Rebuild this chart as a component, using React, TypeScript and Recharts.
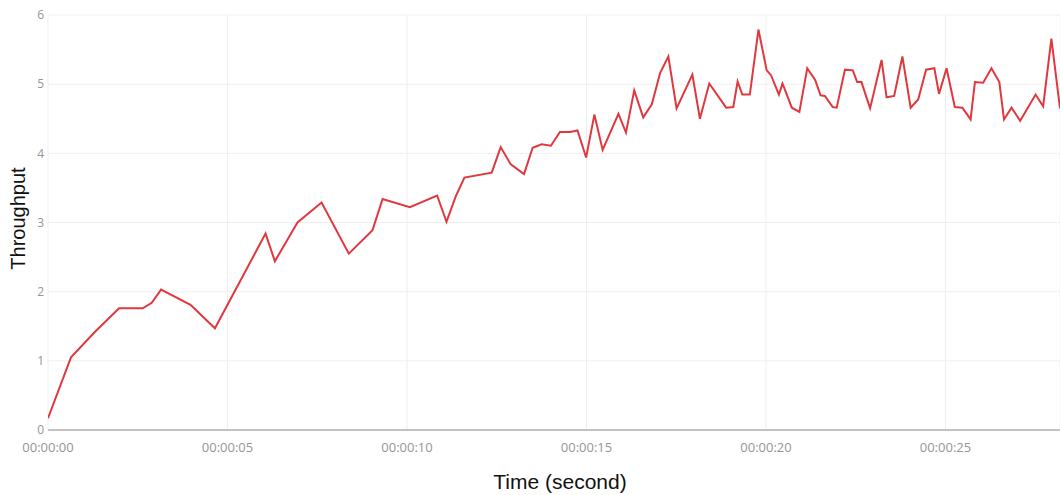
import React from 'react';
import { LineChart, Line, XAxis, YAxis, CartesianGrid } from 'recharts';

// elapsed time in seconds
const seconds = [
  0, 0.64, 1.31, 1.98, 2.64, 2.89, 3.15, 3.97, 4.65, 6.06,
  6.32, 6.95, 7.62, 8.38, 9.04, 9.32, 10.08, 10.84, 11.1, 11.36,
  11.6, 12.36, 12.61, 12.89, 13.26, 13.5, 13.75, 14.01, 14.26, 14.54,
  14.75, 14.99, 15.22, 15.45, 15.89, 16.1, 16.33, 16.58, 16.82, 17.05,
  17.28, 17.51, 17.95, 18.16, 18.42, 18.89, 19.09, 19.21, 19.34, 19.55,
  19.79, 20.02, 20.14, 20.36, 20.46, 20.72, 20.93, 21.15, 21.37, 21.52,
  21.64, 21.86, 21.97, 22.2, 22.42, 22.54, 22.66, 22.9, 23.22, 23.36,
  23.57, 23.8, 24.03, 24.24, 24.46, 24.69, 24.82, 25.03, 25.26, 25.47,
  25.7, 25.82, 26.05, 26.28, 26.5, 26.63, 26.84, 27.08, 27.51, 27.72,
  27.95, 28.19,
];

const throughput = [
  0.17, 1.05, 1.42, 1.76, 1.76, 1.84, 2.03, 1.81, 1.47, 2.84,
  2.44, 3.0, 3.29, 2.55, 2.89, 3.34, 3.22, 3.39, 3.01, 3.38,
  3.65, 3.72, 4.09, 3.84, 3.7, 4.08, 4.13, 4.11, 4.31, 4.31,
  4.33, 3.94, 4.56, 4.05, 4.57, 4.3, 4.91, 4.52, 4.71, 5.16,
  5.4, 4.65, 5.14, 4.5, 5.01, 4.66, 4.67, 5.04, 4.85, 4.85,
  5.79, 5.2, 5.13, 4.85, 5.01, 4.66, 4.6, 5.23, 5.06, 4.84,
  4.83, 4.67, 4.66, 5.21, 5.2, 5.03, 5.03, 4.65, 5.35, 4.81,
  4.83, 5.4, 4.66, 4.78, 5.21, 5.23, 4.86, 5.23, 4.67, 4.66,
  4.49, 5.03, 5.02, 5.23, 5.03, 4.49, 4.66, 4.47, 4.85, 4.68,
  5.66, 4.65,
];

const xTicks = [0, 5, 10, 15, 20, 25];
const yTicks = [0, 1, 2, 3, 4, 5, 6];

const data = seconds.map((t, i) => ({ t, v: throughput[i] }));

const fmtTime = (s: number) => `00:00:${String(s).padStart(2, '0')}`;

const YTitle = ({ viewBox }: any) => {
  const cx = viewBox.x + 18;
  const cy = viewBox.y + viewBox.height / 2 - 4;
  return (
    <text
      x={cx}
      y={cy}
      transform={`rotate(-90 ${cx} ${cy})`}
      textAnchor="middle"
      dominantBaseline="central"
      fontFamily="Liberation Sans, Arial, sans-serif"
      fontSize={20}
      fill="#111"
    >
      Throughput
    </text>
  );
};

const XTitle = ({ viewBox }: any) => {
  const cx = viewBox.x + viewBox.width / 2 + 6;
  const cy = viewBox.y + 51;
  return (
    <text
      x={cx}
      y={cy}
      textAnchor="middle"
      dominantBaseline="central"
      fontFamily="Liberation Sans, Arial, sans-serif"
      fontSize={21}
      fill="#111"
    >
      Time (second)
    </text>
  );
};

export default function App() {
  return (
    <div style={{ position: 'absolute', left: 0, top: 0, width: 1060, height: 495, background: '#fff' }}>
      <LineChart width={1060} height={495} data={data} margin={{ top: 15, right: 0, left: 0, bottom: 0 }}>
        <CartesianGrid stroke="#efefef" strokeWidth={1} />
        <XAxis
          dataKey="t"
          type="number"
          domain={[0, 28.19]}
          ticks={xTicks}
          interval={0}
          tickFormatter={fmtTime}
          height={65}
          axisLine={{ stroke: '#b0b0b0', strokeWidth: 1.5 }}
          tickLine={false}
          tickSize={6}
          tickMargin={7}
          tick={{ fontSize: 13, fill: '#959595', fontFamily: 'Open Sans, sans-serif' }}
          label={<XTitle />}
          allowDataOverflow
        />
        <YAxis
          type="number"
          domain={[0, 6]}
          ticks={yTicks}
          width={48}
          axisLine={false}
          tickLine={false}
          tickSize={3}
          tickMargin={1}
          tick={{ fontSize: 12, fill: '#959595', fontFamily: 'Open Sans, sans-serif' }}
          label={<YTitle />}
        />
        <Line
          type="linear"
          dataKey="v"
          stroke="#e0383f"
          strokeWidth={2}
          dot={false}
          isAnimationActive={false}
        />
      </LineChart>
    </div>
  );
}
